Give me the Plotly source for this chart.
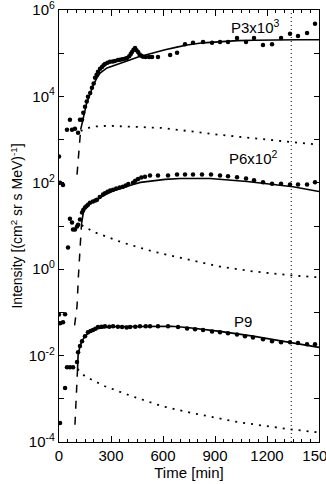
import numpy as np
import plotly.graph_objects as go

# ---------------- data (time in minutes, intensity as log10 values) ----------------
p3_t = [0, 46, 63, 75, 92, 110, 121, 133, 140, 150, 160, 167, 180, 190, 200, 208, 217, 225, 237,
        248, 257, 265, 280, 294, 310, 323, 340, 352, 365, 380, 392, 405, 414, 421, 430, 439, 447,
        456, 465, 475, 485, 500, 520, 537, 571, 641, 681, 727, 773, 831, 883, 929,
        975, 1027, 1079, 1125, 1177, 1229, 1281, 1333, 1379, 1431, 1477]
p3_log = [2.61, 3.23, 3.46, 3.23, 3.25, 3.16, 3.46, 3.46, 3.62, 3.76, 3.88, 3.99, 4.08, 4.20, 4.30,
          4.43, 4.50, 4.57, 4.64, 4.68, 4.72, 4.75, 4.78, 4.80, 4.81, 4.82, 4.84, 4.85, 4.86, 4.87,
          4.89, 4.93, 4.98, 5.03, 5.08, 5.12, 5.07, 5.03, 4.97, 4.94, 4.92, 4.91,
          4.91, 4.91, 4.91, 4.96, 5.01, 5.21, 5.24, 5.26, 5.24, 5.26, 5.26, 5.35, 5.26, 5.35, 5.19,
          5.21, 5.35, 5.45, 5.40, 5.47, 5.68]

p6_t = [6, 23, 52, 63, 75, 81, 92, 104, 110, 121, 133, 140, 150, 158, 167, 179, 196, 210, 219, 235,
        254, 265, 280, 295, 312, 330, 350, 369, 385, 400, 427, 440, 456, 475, 496, 525, 571, 629,
        681, 727, 773, 825, 877, 929, 975, 1027, 1079, 1125, 1177, 1229, 1281, 1333, 1379, 1431, 1477]
p6_log = [2.00, 1.95, 0.50, 1.17, 1.08, 0.92, 0.92, 0.99, 1.03, 1.15, 1.31, 1.37, 1.43, 1.46, 1.49,
          1.54, 1.57, 1.59, 1.61, 1.67, 1.73, 1.76, 1.79, 1.82, 1.84, 1.87, 1.89, 1.91, 1.94, 1.97,
          2.00, 2.05, 2.09, 2.12, 2.14, 2.17, 2.17, 2.17, 2.19, 2.19, 2.19, 2.19, 2.19, 2.17, 2.15,
          2.13, 2.10, 2.06, 2.01, 1.98, 1.98, 1.96, 1.96, 1.96, 2.01]

p9_t = [0, 6, 6, 23, 35, 35, 46, 63, 81, 104, 110, 121, 133, 150, 167, 182, 196, 210, 225, 245,
        265, 290, 312, 340, 364, 390, 410, 440, 467, 500, 525, 571, 629, 687, 739, 785, 831, 883,
        929, 975, 1027, 1073, 1119, 1177, 1229, 1281, 1333, 1379, 1431, 1477]
p9_log = [-1.05, -1.25, -3.56, -1.23, -1.04, -2.75, -2.27, -2.27, -2.27, -2.15, -1.92, -1.78, -1.67,
          -1.55, -1.46, -1.43, -1.41, -1.38, -1.34, -1.33, -1.32, -1.33, -1.32, -1.33, -1.34, -1.35,
          -1.34, -1.33, -1.32, -1.32, -1.32, -1.32, -1.32, -1.34, -1.37, -1.39, -1.41, -1.44, -1.46,
          -1.48, -1.51, -1.55, -1.58, -1.62, -1.67, -1.69, -1.69, -1.71, -1.74, -1.74]

# fitted curves (solid)
p3_fit_t = [125, 138, 160, 179, 196, 219, 237, 277, 335, 392, 456, 500, 554, 612, 680, 739,
            830, 929, 1030, 1125, 1250, 1380, 1500]
p3_fit_log = [3.23, 3.46, 3.85, 4.05, 4.25, 4.43, 4.54, 4.66, 4.75, 4.82, 4.91, 4.96, 5.03, 5.08,
              5.14, 5.19, 5.24, 5.27, 5.29, 5.30, 5.31, 5.31, 5.31]
p6_fit_t = [130, 140, 150, 179, 219, 254, 312, 369, 427, 470, 520, 612, 700, 871, 1085, 1235,
            1350, 1500]
p6_fit_log = [1.05, 1.30, 1.40, 1.52, 1.61, 1.70, 1.81, 1.89, 1.96, 2.01, 2.04, 2.08, 2.10, 2.10,
              2.03, 1.96, 1.91, 1.80]
p9_fit_t = [107, 110, 121, 133, 150, 180, 220, 300, 400, 542, 650, 739, 929, 1119, 1300, 1500]
p9_fit_log = [-2.31, -2.00, -1.78, -1.66, -1.55, -1.45, -1.38, -1.33, -1.33, -1.32, -1.32, -1.35,
              -1.44, -1.55, -1.68, -1.81]

# rise components (dashed)
p3_rise_t = [104, 110, 115, 121, 125]
p3_rise_log = [2.19, 2.55, 2.85, 3.10, 3.23]
p6_rise_t = [90, 95, 104, 112, 120, 126, 130]
p6_rise_log = [-1.30, -1.16, -0.86, -0.17, 0.41, 0.80, 1.05]
p9_rise_t = [92, 95, 98, 102, 107]
p9_rise_log = [-3.60, -3.30, -3.00, -2.60, -2.31]

# decay components (dotted)
p3_decay_t = [125, 150, 190, 283, 456, 594, 700, 800, 929, 1100, 1333, 1500]
p3_decay_log = [3.20, 3.24, 3.30, 3.32, 3.30, 3.27, 3.22, 3.17, 3.11, 3.04, 2.95, 2.88]
p6_decay_t = [130, 208, 364, 467, 542, 739, 929, 1119, 1333, 1500]
p6_decay_log = [1.02, 0.85, 0.62, 0.50, 0.41, 0.23, 0.06, -0.05, -0.14, -0.19]
p9_decay_t = [107, 150, 265, 421, 594, 744, 1033, 1321, 1500]
p9_decay_log = [-2.31, -2.48, -2.71, -2.94, -3.17, -3.31, -3.54, -3.70, -3.78]

marker_time = 1340

labels = ["P3x10<sup>3</sup>", "P6x10<sup>2</sup>", "P9"]
label_t = [1135, 1120, 1062]
label_log = [5.62, 2.58, -1.20]

x_ticks = [0, 300, 600, 900, 1200, 1500]
y_exps = list(range(-4, 7))

# ---------------- figure ----------------
def p(v):
    return 10 ** np.array(v, dtype=float)

fig = go.Figure()
FONT = "Liberation Sans, Arial, sans-serif"

series = [
    (p3_t, p3_log, p3_fit_t, p3_fit_log, p3_rise_t, p3_rise_log, p3_decay_t, p3_decay_log),
    (p6_t, p6_log, p6_fit_t, p6_fit_log, p6_rise_t, p6_rise_log, p6_decay_t, p6_decay_log),
    (p9_t, p9_log, p9_fit_t, p9_fit_log, p9_rise_t, p9_rise_log, p9_decay_t, p9_decay_log),
]
for (t, lg, ft, fl, rt, rl, dt, dl) in series:
    fig.add_trace(go.Scatter(x=dt, y=p(dl), mode="lines",
                             line=dict(color="black", width=1.8, dash="2px,6px")))
    fig.add_trace(go.Scatter(x=rt, y=p(rl), mode="lines",
                             line=dict(color="black", width=1.5, dash="8px,8px")))
    fig.add_trace(go.Scatter(x=ft, y=p(fl), mode="lines",
                             line=dict(color="black", width=1.6)))
    fig.add_trace(go.Scatter(x=t, y=p(lg), mode="markers",
                             marker=dict(color="black", size=4.5)))

fig.add_shape(type="line", x0=marker_time, x1=marker_time, y0=0, y1=1,
              xref="x", yref="paper", line=dict(color="black", width=1, dash="1px,3px"))

for txt, lt, ll in zip(labels, label_t, label_log):
    fig.add_annotation(x=lt, y=float(ll), yref="y", xref="x", text=txt, showarrow=False,
                       font=dict(family=FONT, size=15, color="black"))

fig.update_layout(
    width=326, height=484,
    margin=dict(l=59, r=7, t=10, b=42, autoexpand=False),
    paper_bgcolor="white", plot_bgcolor="white",
    showlegend=False,
    font=dict(family=FONT, size=15, color="black"),
)
fig.update_xaxes(
    range=[0, 1500], tickvals=x_ticks, ticktext=[str(v) for v in x_ticks],
    ticks="inside", ticklen=6, tickwidth=1, tickcolor="black",
    minor=dict(dtick=50, ticks="inside", ticklen=3, tickcolor="black", tickwidth=1),
    showline=True, linecolor="black", linewidth=1.2, mirror="ticks",
    showgrid=False, zeroline=False, ticklabeloverflow="allow", automargin=False,
    title=dict(text="Time [min]", standoff=2, font=dict(size=15)),
    tickfont=dict(size=15),
)
fig.update_yaxes(
    type="log", range=[-4, 6],
    tickvals=[10.0 ** e for e in y_exps],
    ticktext=[("10<sup>%d</sup>" % e) if e % 2 == 0 else "" for e in y_exps],
    ticks="inside", ticklen=5, tickwidth=1, tickcolor="black",
    showline=True, linecolor="black", linewidth=1.2, mirror="ticks",
    showgrid=False, zeroline=False, ticklabeloverflow="allow", automargin=False,
    title=dict(text="Intensity [(cm<sup>2</sup> sr s MeV)<sup>-1</sup>]", standoff=2,
               font=dict(size=14)),
    tickfont=dict(size=15),
)

fig.write_html("out.html")
